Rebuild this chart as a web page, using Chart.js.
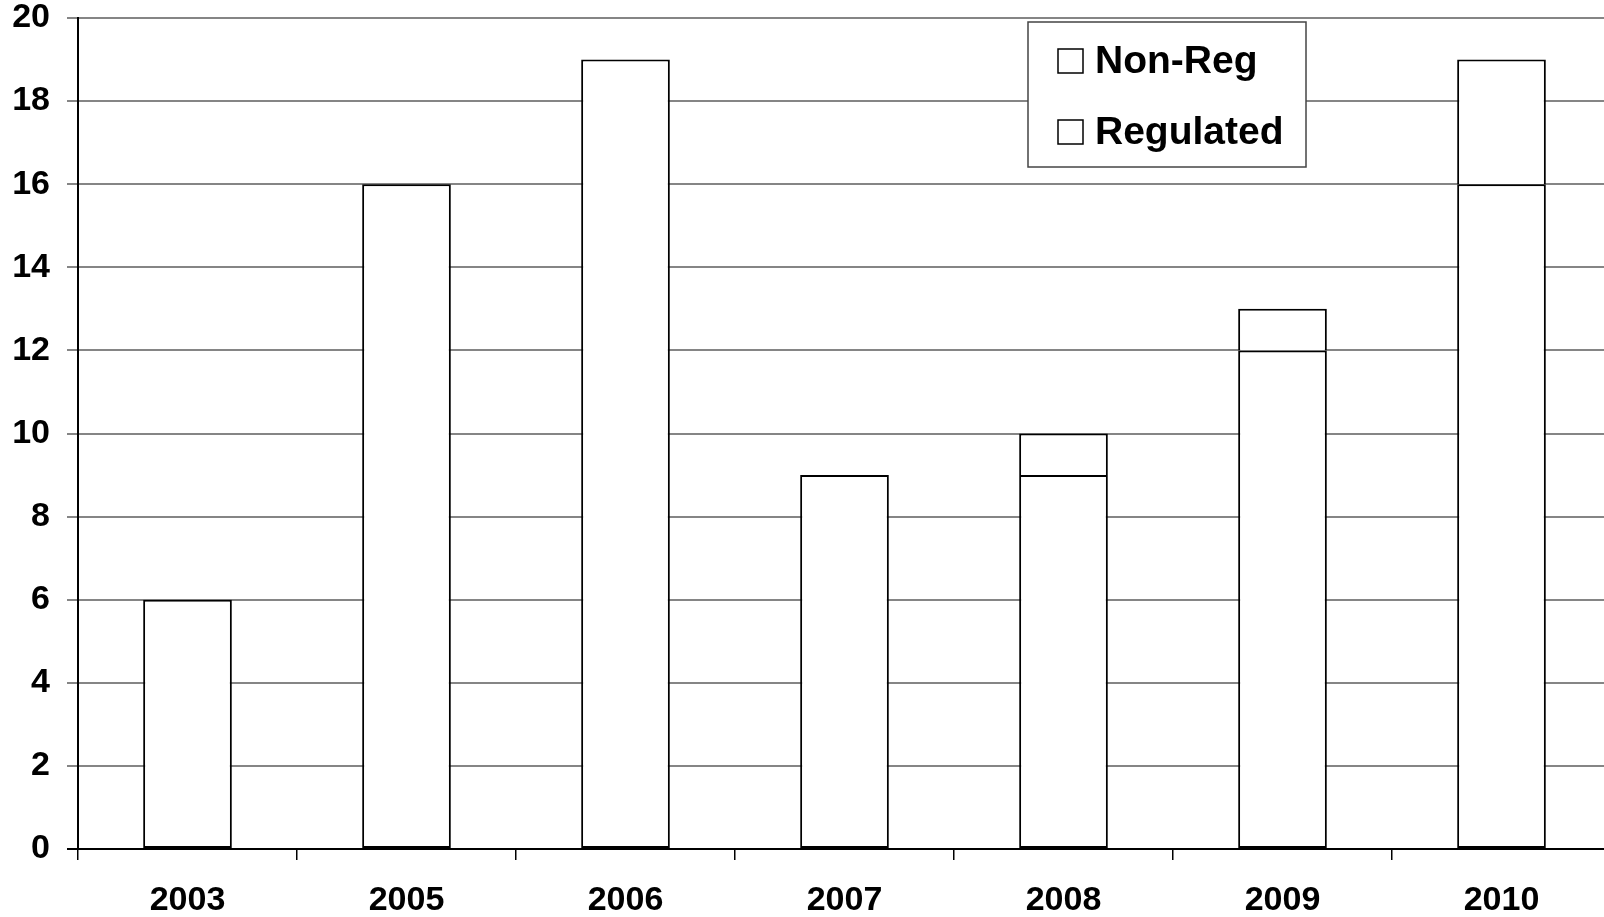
<!DOCTYPE html>
<html>
<head>
<meta charset="utf-8">
<script src="https://cdn.jsdelivr.net/npm/chart.js@4/dist/chart.umd.min.js"></script>
<style>
  html, body { margin: 0; padding: 0; background: #fff; overflow: hidden; width: 1604px; height: 917px; }
  #wrap { position: absolute; left: 0; top: 0; width: 1622px; height: 917px; }
</style>
</head>
<body>
<div id="wrap"><canvas id="c"></canvas></div>
<script>
const years = ['2003', '2005', '2006', '2007', '2008', '2009', '2010'];
const regulated = [6, 16, 19, 9, 9, 12, 16];
const nonReg = [0, 0, 0, 0, 1, 1, 3];
const yTicks = [0, 2, 4, 6, 8, 10, 12, 14, 16, 18, 20];
const seriesNames = ['Regulated', 'Non-Reg'];

const FONT = '"Liberation Sans", Arial, sans-serif';

const legendBox = {
  id: 'legendBox',
  afterDraw(chart) {
    const ctx = chart.ctx;
    const x0 = 1028, y0 = 22, w = 278, h = 145;
    ctx.save();
    ctx.fillStyle = '#fff';
    ctx.fillRect(x0, y0, w, h);
    ctx.strokeStyle = '#444';
    ctx.lineWidth = 1.5;
    ctx.strokeRect(x0, y0, w, h);
    // Excel-style reversed order for stacked bars
    const items = chart.data.datasets.slice().reverse();
    const rows = [61, 132];
    ctx.font = 'bold 39px ' + FONT;
    ctx.textBaseline = 'middle';
    items.forEach((ds, i) => {
      const cy = rows[i];
      ctx.fillStyle = '#fff';
      ctx.fillRect(1058, cy - 12, 25, 24);
      ctx.strokeStyle = '#000';
      ctx.lineWidth = 1.5;
      ctx.strokeRect(1058, cy - 12, 25, 24);
      ctx.fillStyle = '#000';
      ctx.fillText(ds.label, 1095, cy + 1);
    });
    ctx.restore();
  }
};

new Chart(document.getElementById('c'), {
  type: 'bar',
  data: {
    labels: years,
    datasets: [
      { label: seriesNames[0], data: regulated, backgroundColor: '#fff', borderColor: '#000', borderWidth: 2, borderSkipped: false },
      { label: seriesNames[1], data: nonReg, backgroundColor: '#fff', borderColor: '#000', borderWidth: 2, borderSkipped: 'bottom' }
    ]
  },
  options: {
    responsive: true,
    maintainAspectRatio: false,
    animation: false,
    layout: { padding: { top: 18, right: 11, left: 0, bottom: 0 } },
    plugins: { legend: { display: false }, tooltip: { enabled: false } },
    datasets: { bar: { barPercentage: 0.405, categoryPercentage: 1 } },
    scales: {
      x: {
        stacked: true,
        offset: true,
        grid: { offset: true, drawOnChartArea: false, drawTicks: true, tickLength: 11, color: '#000', lineWidth: 1.5 },
        border: { display: true, color: '#000', width: 2 },
        ticks: { color: '#000', font: { family: FONT, size: 34, weight: 'bold' }, padding: 20, maxRotation: 0 },
        afterFit(scale) { scale.height = 68; scale.paddingLeft = 0; scale.paddingRight = 0; }
      },
      y: {
        stacked: true,
        min: 0,
        max: 20,
        afterBuildTicks(scale) { scale.ticks = yTicks.map(v => ({ value: v })); },
        grid: {
          color: (c) => (c.tick && c.tick.value === 0) ? '#000' : '#858585',
          lineWidth: 2,
          tickLength: 11,
          drawTicks: true
        },
        border: { display: true, color: '#000', width: 2 },
        ticks: { color: '#000', font: { family: FONT, size: 34, weight: 'bold' }, padding: 17 },
        afterFit(scale) { scale.width = 78; scale.paddingTop = 0; scale.paddingBottom = 0; }
      }
    }
  },
  plugins: [legendBox]
});
</script>
</body>
</html>
